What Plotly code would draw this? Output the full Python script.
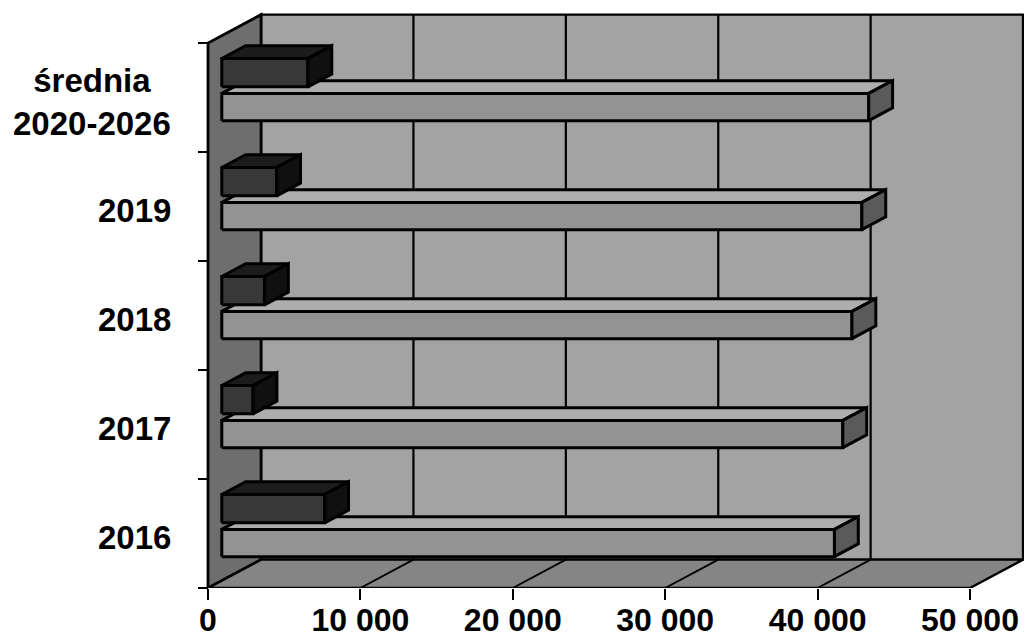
import plotly.graph_objects as go

# Category labels (bottom to top) and the two series per category
categories = ["2016", "2017", "2018", "2019", "średnia<br>2020-2026"]
dark_values = [6750, 2050, 2800, 3600, 5650]
light_values = [40200, 40750, 41350, 42000, 42450]

x_tick_values = [0, 10000, 20000, 30000, 40000, 50000]
x_tick_labels = ["0", "10 000", "20 000", "30 000", "40 000", "50 000"]

# Oblique projection used to fake the 3-D box look
DEPTH_X = 3480      # value-axis shift for full depth
DEPTH_Y = 0.26      # category-axis shift for full depth
X_MAX = x_tick_values[-1]
N_CAT = len(categories)

BAR_D0, BAR_D1 = 0.26, 0.71          # depth span of the bars
LIGHT_C = (0.22, 0.47)               # category span inside a band
DARK_C = (0.53, 0.79)

FONT = "Liberation Sans, Arial, Helvetica, sans-serif"

WALL_BACK = "#a3a3a3"
WALL_LEFT = "#6e6e6e"
FLOOR = "#858585"
LIGHT = ("#939393", "#adadad", "#5a5a5a")   # front, top, end
DARK = ("#383838", "#1c1c1c", "#101010")


def proj(v, c, d):
    return v + d * DEPTH_X, c + d * DEPTH_Y


def polygon(points, fill, width=2.0, color="black"):
    pts = [proj(*p) for p in points]
    pts.append(pts[0])
    return go.Scatter(
        x=[p[0] for p in pts], y=[p[1] for p in pts],
        mode="lines", fill="toself", fillcolor=fill,
        line=dict(color=color, width=width),
        hoverinfo="skip", showlegend=False, cliponaxis=False,
    )


def segment(p, q, width=2.0, color="black"):
    a, b = proj(*p), proj(*q)
    return go.Scatter(
        x=[a[0], b[0]], y=[a[1], b[1]], mode="lines",
        line=dict(color=color, width=width),
        hoverinfo="skip", showlegend=False, cliponaxis=False,
    )


def box(value, c0, c1, colors):
    front, top, end = colors
    return [
        polygon([(0, c0, BAR_D0), (value, c0, BAR_D0), (value, c1, BAR_D0), (0, c1, BAR_D0)], front, 3),
        polygon([(0, c1, BAR_D0), (value, c1, BAR_D0), (value, c1, BAR_D1), (0, c1, BAR_D1)], top, 3),
        polygon([(value, c0, BAR_D0), (value, c0, BAR_D1), (value, c1, BAR_D1), (value, c1, BAR_D0)], end, 3),
    ]


traces = []
# walls and floor
traces.append(polygon([(0, 0, 1), (X_MAX, 0, 1), (X_MAX, N_CAT, 1), (0, N_CAT, 1)], WALL_BACK, 2.4))
traces.append(polygon([(0, 0, 0), (0, 0, 1), (0, N_CAT, 1), (0, N_CAT, 0)], WALL_LEFT, 2.8))
traces.append(polygon([(0, 0, 0), (X_MAX, 0, 0), (X_MAX, 0, 1), (0, 0, 1)], FLOOR, 2.4))

# gridlines on the back wall and their continuation across the floor
for v in x_tick_values[1:-1]:
    traces.append(segment((v, 0, 1), (v, N_CAT, 1), 2.2))
for v in x_tick_values[:-1]:
    traces.append(segment((v, 0, 0), (v, 0, 1), 1.8))

# bars, drawn from the bottom category upwards so nearer faces overlap correctly
for i in range(N_CAT):
    traces += box(light_values[i], i + LIGHT_C[0], i + LIGHT_C[1], LIGHT)
    traces += box(dark_values[i], i + DARK_C[0], i + DARK_C[1], DARK)

fig = go.Figure(traces)

PLOT_L, PLOT_R, PLOT_T, PLOT_B = 200, 1024, 10, 588
px_per_unit = 762 / X_MAX
x_min = -(208 - PLOT_L) / px_per_unit
x_max = x_min + (PLOT_R - PLOT_L) / px_per_unit
y_max = (PLOT_B - PLOT_T) / 109.0

annotations = [
    dict(
        text=name, x=(173 - PLOT_L) / (PLOT_R - PLOT_L), xref="paper",
        y=i + 0.5, yref="y", xanchor="right", yanchor="middle",
        yshift=-4, align="center", showarrow=False,
        font=dict(family=FONT, size=33, color="black", weight="bold"),
    )
    for i, name in enumerate(categories)
]

fig.update_layout(
    width=1025, height=643,
    margin=dict(l=PLOT_L, r=1025 - PLOT_R, t=PLOT_T, b=643 - PLOT_B),
    paper_bgcolor="white", plot_bgcolor="white",
    showlegend=False,
    annotations=annotations,
    xaxis=dict(
        range=[x_min, x_max], tickvals=x_tick_values, ticktext=x_tick_labels,
        ticks="outside", ticklen=11, tickwidth=2, tickcolor="black",
        ticklabelstandoff=-7, automargin=False,
        showgrid=False, zeroline=False, showline=False,
        tickfont=dict(family=FONT, size=32, color="black", weight="bold"),
        fixedrange=True,
    ),
    yaxis=dict(
        range=[0, y_max], tickvals=list(range(N_CAT + 1)),
        ticks="outside", ticklen=10, tickwidth=2, tickcolor="black",
        showticklabels=False, showgrid=False, zeroline=False, showline=False,
        anchor="free", position=(208 - PLOT_L) / (PLOT_R - PLOT_L),
        automargin=False, fixedrange=True,
    ),
)

fig.write_html("out.html")
